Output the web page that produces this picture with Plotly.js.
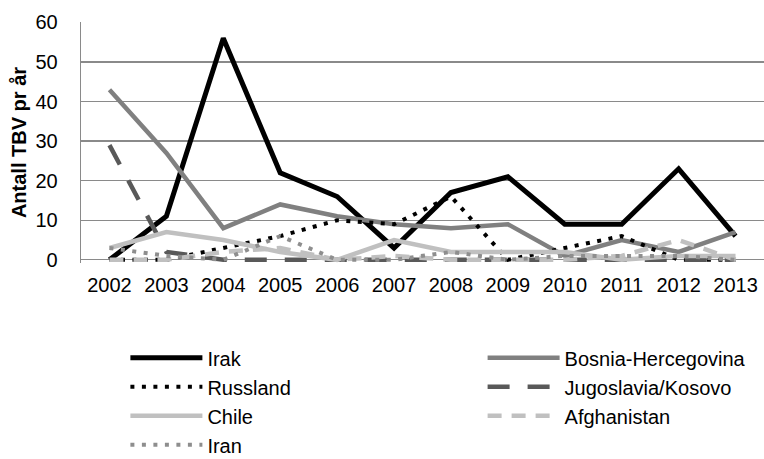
<!DOCTYPE html>
<html>
<head>
<meta charset="utf-8">
<script src="https://cdn.plot.ly/plotly-3.0.1.min.js"></script>
<style>
html,body{margin:0;padding:0;background:#fff;}
#chart{width:764px;height:459px;}
</style>
</head>
<body>
<div id="chart"></div>
<script>
const years = ['2002','2003','2004','2005','2006','2007','2008','2009','2010','2011','2012','2013'];
const irak        = [0, 11, 56, 22, 16, 3, 17, 21, 9, 9, 23, 6];
const bosnia      = [43, 27, 8, 14, 11, 9, 8, 9, 1, 5, 2, 7];
const russland    = [0, 0, 3, 6, 10, 9, 16, 0, 3, 6, 0, 0];
const jugoslavia  = [29, 2, 0, 0, 0, 0, 0, 0, 0, 0, 0, 0];
const chile       = [3, 7, 5, 2, 0, 5, 2, 2, 2, 0, 1, 1];
const afghanistan = [0, 0, 2, 3, 0, 1, 0, 0, 0, 1, 5, 0];
const iran        = [3, 1, 0, 6, 0, 0, 2, 0, 1, 1, 1, 0];
const yTicks = [0, 10, 20, 30, 40, 50, 60];

function tr(name, y, color, width, dash, legend) {
  return {type:'scatter', mode:'lines', name:name, x:years, y:y,
    legend:legend, legendgroup:name,
    line:{color:color, width:width, dash:dash}, hoverinfo:'skip'};
}
const data = [
  tr('Irak', irak, '#000000', 5, 'solid', 'legend'),
  tr('Bosnia-Hercegovina', bosnia, '#808080', 4.5, 'solid', 'legend2'),
  tr('Russland', russland, '#000000', 4, '4px,7.5px', 'legend'),
  tr('Jugoslavia/Kosovo', jugoslavia, '#595959', 4.5, '22px,18px', 'legend2'),
  tr('Chile', chile, '#c0c0c0', 4.5, 'solid', 'legend'),
  tr('Afghanistan', afghanistan, '#c0c0c0', 4.5, '14px,10px', 'legend2'),
  tr('Iran', iran, '#8e8e8e', 4, '4px,7.5px', 'legend')
];
const font = {family:'"Liberation Sans", Arial, sans-serif', size:20, color:'#000'};
const legBase = {orientation:'v', xanchor:'left', yanchor:'top', y:-0.312,
  itemwidth:72, font:font, traceorder:'normal', tracegroupgap:5.5,
  bgcolor:'rgba(0,0,0,0)'};
const layout = {
  width:764, height:459,
  margin:{l:81, r:0, t:22, b:196, autoexpand:false},
  paper_bgcolor:'#fff', plot_bgcolor:'#fff',
  font:font,
  showlegend:true,
  legend:Object.assign({}, legBase, {x:0.065}),
  legend2:Object.assign({}, legBase, {x:0.588}),
  xaxis:{type:'category', range:[-0.5, 11.5], showgrid:false, zeroline:false,
    showline:false, ticks:'', tickfont:font, ticklabelstandoff:8, fixedrange:true},
  yaxis:{range:[-0.8, 60.1], tickvals:yTicks, ticktext:yTicks.map(String),
    showgrid:true, gridcolor:'#8a8a8a', gridwidth:1.3,
    zeroline:true, zerolinecolor:'#8a8a8a', zerolinewidth:1.3,
    showline:true, linecolor:'#8a8a8a', linewidth:1.3,
    ticks:'', tickfont:font, ticklabelstandoff:18,
    title:{text:'<b>Antall TBV pr år</b>', font:font, standoff:3}, fixedrange:true}
};
Plotly.newPlot('chart', data, layout, {displayModeBar:false, staticPlot:true});
</script>
</body>
</html>
